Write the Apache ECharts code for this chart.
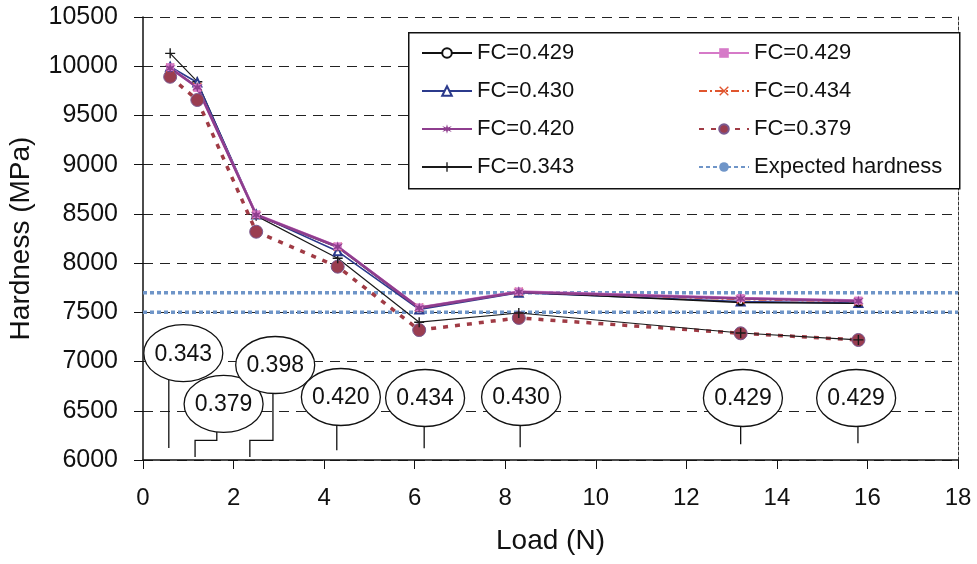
<!DOCTYPE html>
<html>
<head>
<meta charset="utf-8">
<script src="https://cdn.jsdelivr.net/npm/echarts@6/dist/echarts.min.js"></script>
<style>
  html, body { margin: 0; padding: 0; background: #fff; }
  #chart { width: 977px; height: 564px; }
</style>
</head>
<body>
<div id="chart"></div>
<script>
// ---- data ----
const loads = [0.6, 1.2, 2.5, 4.3, 6.1, 8.3, 13.2, 15.8];
const fc429a = [9985, 9790, 8485, 8160, 7540, 7705, 7600, 7590];
const fc430  = [9995, 9835, 8495, 8120, 7530, 7700, 7610, 7595];
const fc420  = [9980, 9786, 8489, 8167, 7545, 7707, 7640, 7615];
const fc343  = [10131, 9843, 8480, 8049, 7400, 7493, 7290, 7220];
const fc429b = [9990, 9780, 8495, 8170, 7550, 7712, 7645, 7620];
const fc434  = [9985, 9790, 8490, 8165, 7548, 7708, 7630, 7610];
const fc379  = [9893, 9657, 8319, 7964, 7320, 7443, 7287, 7219];
const expectedLoads = [0, 18];
const expectedHigh = [7700, 7700];
const expectedLow = [7500, 7500];

const xTicks = [0, 2, 4, 6, 8, 10, 12, 14, 16, 18];
const yTicks = [6000, 6500, 7000, 7500, 8000, 8500, 9000, 9500, 10000, 10500];

// callout annotations (data coordinates)
const calloutLabels  = ['0.343', '0.379', '0.398', '0.420', '0.434', '0.430', '0.429', '0.429'];
const calloutLoad    = [0.57, 1.15, 2.36, 4.28, 6.21, 8.33, 13.2, 15.79];
const calloutCenterX = [0.89, 1.78, 2.92, 4.37, 6.23, 8.35, 13.25, 15.75];
const calloutCenterY = [7085, 6570, 6965, 6640, 6630, 6640, 6630, 6630];
const calloutStemX   = [0.57, 1.63, 2.87, 4.28, 6.21, 8.33, 13.2, 15.79];
const calloutStepY   = [6200, 6200, 6200, 6200, 6200, 6200, 6200, 6200];
const calloutEnd     = [6122, 6030, 6030, 6100, 6120, 6130, 6160, 6170];

// ---- build ----
const FONT = 'Liberation Sans, Arial, sans-serif';
const pair = (ys, xs) => ys.map((y, i) => [(xs || loads)[i], y]);

const starPath = 'path://M5,0 L6,3.5 L10,2 L7,5 L10,8 L6,6.5 L5,10 L4,6.5 L0,8 L3,5 L0,2 L4,3.5 Z';
const plusPath = 'path://M4.3,0 H5.7 V4.3 H10 V5.7 H5.7 V10 H4.3 V5.7 H0 V4.3 H4.3 Z';
const xPath = 'path://M1,0 L5,4 L9,0 L10,1 L6,5 L10,9 L9,10 L5,6 L1,10 L0,9 L4,5 L0,1 Z';

const calloutData = calloutLabels.map((l, i) => [
  calloutLoad[i], calloutCenterX[i], calloutCenterY[i], calloutStemX[i], calloutStepY[i], calloutEnd[i]
]);

const RX = 39.5, RY = 28.5;
function renderCallout(params, api) {
  const i = params.dataIndex;
  const c = api.coord([api.value(1), api.value(2)]);
  const stemX = api.coord([api.value(3), 0])[0];
  const anchorX = api.coord([api.value(0), 0])[0];
  const stepY = api.coord([0, api.value(4)])[1];
  const endY = api.coord([0, api.value(5)])[1];
  const dx = (stemX - c[0]) / RX;
  const edgeY = c[1] + RY * Math.sqrt(Math.max(0, 1 - dx * dx));
  const pts = stemX === anchorX
    ? [[stemX, edgeY], [anchorX, endY]]
    : [[stemX, edgeY], [stemX, stepY], [anchorX, stepY], [anchorX, endY]];
  return {
    type: 'group',
    children: [
      { type: 'polyline', shape: { points: pts }, style: { stroke: '#111', lineWidth: 1.3, fill: null } },
      { type: 'ellipse', shape: { cx: c[0], cy: c[1], rx: RX, ry: RY },
        style: { fill: '#fff', stroke: '#111', lineWidth: 1.3 } },
      { type: 'text', style: { x: c[0], y: c[1] + 1, text: calloutLabels[i], align: 'center',
        verticalAlign: 'middle', font: '23px ' + FONT, fill: '#111' } }
    ]
  };
}

const lineSeries = (name, data, color, width, type, symbol, size, extra) => Object.assign({
  name, type: 'line', data, color, symbol, symbolSize: size, z: 3,
  lineStyle: { color, width, type }, itemStyle: { color }, emphasis: { disabled: true }
}, extra || {});

const option = {
  animation: false,
  backgroundColor: '#fff',
  textStyle: { fontFamily: FONT },
  grid: { left: 143, right: 19, top: 17, bottom: 104, containLabel: false, outerBoundsMode: 'none' },
  xAxis: {
    type: 'value', min: 0, max: 18, interval: 2,
    name: 'Load (N)', nameLocation: 'middle', nameGap: 67,
    nameTextStyle: { fontSize: 28, color: '#111', fontFamily: FONT },
    axisLine: { show: true, onZero: false, lineStyle: { color: '#111', width: 1.5 } },
    axisTick: { show: true, length: 9, inside: false, lineStyle: { color: '#111' } },
    axisLabel: { fontSize: 24, color: '#111', margin: 26, fontFamily: FONT,
      formatter: v => xTicks.includes(v) ? String(v) : '' },
    splitLine: { show: false }
  },
  yAxis: [{
    type: 'value', min: 6000, max: 10500, interval: 500,
    name: 'Hardness (MPa)', nameLocation: 'middle', nameGap: 108,
    nameTextStyle: { fontSize: 28, color: '#111', fontFamily: FONT },
    axisLine: { show: true, lineStyle: { color: '#111', width: 1.5 } },
    axisTick: { show: true, length: 9, lineStyle: { color: '#111' } },
    axisLabel: { fontSize: 25, color: '#111', margin: 25, fontFamily: FONT,
      formatter: v => yTicks.includes(v) ? String(v) : '' },
    splitLine: { show: true, lineStyle: { color: '#222', width: 1, type: [10, 7] } }
  }, {
    type: 'value', min: 6000, max: 10500, interval: 500, position: 'right',
    axisLine: { show: true, lineStyle: { color: '#333', width: 1, type: [3, 2] } },
    axisTick: { show: false }, axisLabel: { show: false }, splitLine: { show: false }
  }],
  legend: [{
    orient: 'vertical', left: 421, top: 42, padding: 0, itemGap: 16,
    itemWidth: 50, itemHeight: 12, z: 10,
    textStyle: { fontSize: 22, color: '#111', lineHeight: 22, fontFamily: FONT },
    data: ['FC=0.429', 'FC=0.430', 'FC=0.420', 'FC=0.343']
  }, {
    orient: 'vertical', left: 698, top: 42, padding: 0, itemGap: 16,
    itemWidth: 50, itemHeight: 12, z: 10,
    textStyle: { fontSize: 22, color: '#111', lineHeight: 22, fontFamily: FONT },
    data: ['FC=0.429 ', 'FC=0.434', 'FC=0.379', 'Expected hardness']
  }],
  graphic: [{
    type: 'rect', left: 408, top: 32, z: 5,
    shape: { width: 551, height: 156 },
    style: { fill: '#fff', stroke: '#111', lineWidth: 1.5 }
  }],
  series: [
    {
      name: 'callouts', type: 'custom', renderItem: renderCallout, data: calloutData,
      clip: false, z: 1, silent: true, encode: { x: [0, 1, 3], y: [2, 4, 5] }
    },
    lineSeries('Expected hardness', pair(expectedHigh, expectedLoads), '#6f95c8', 3.5, [4, 3], 'none', 0),
    lineSeries('Expected hardness', pair(expectedLow, expectedLoads), '#6f95c8', 3.5, [4, 3], 'none', 0),
    lineSeries('FC=0.379', pair(fc379), '#a03b45', 3.5, [5, 7], 'circle', 13,
      { itemStyle: { color: '#9a3d50', borderColor: '#7a5a90', borderWidth: 1 } }),
    lineSeries('FC=0.343', pair(fc343), '#1a1a1a', 1.2, 'solid', plusPath, 10),
    lineSeries('FC=0.430', pair(fc430), '#2b3a8c', 1.6, 'solid', 'emptyTriangle', 8),
    lineSeries('FC=0.429', pair(fc429a), '#111', 1.3, 'solid', 'emptyCircle', 5),
    lineSeries('FC=0.434', pair(fc434), '#e0552e', 1.6, [8, 3, 2, 3], xPath, 9),
    lineSeries('FC=0.429 ', pair(fc429b), '#d67ac8', 2.4, 'solid', 'rect', 8),
    lineSeries('FC=0.420', pair(fc420), '#8e3e8e', 2.6, 'solid', starPath, 11)
  ]
};

const chart = echarts.init(document.getElementById('chart'), null, { renderer: 'canvas' });
chart.setOption(option);
</script>
</body>
</html>
